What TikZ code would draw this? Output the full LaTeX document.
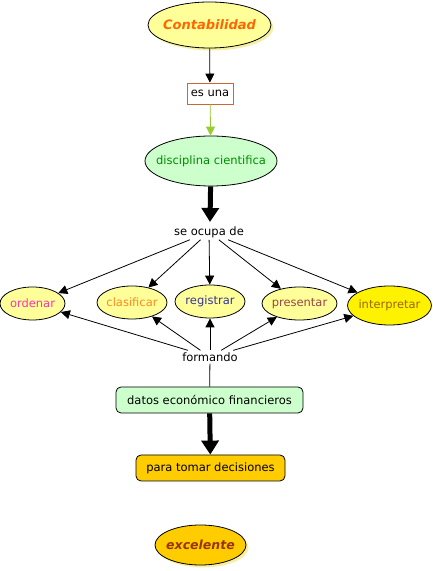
\documentclass[tikz,border=0pt]{standalone}
\usepackage{fontspec}
\setmainfont{DejaVu Sans}
\usetikzlibrary{arrows.meta,shapes.geometric,shadows}
\definecolor{MapYellow}{HTML}{FFFF99}
\definecolor{MapGold}{HTML}{FFCC00}
\definecolor{MapMint}{HTML}{CCFFCC}
\definecolor{MapShade}{HTML}{F4F0A8}

\begin{document}
\begin{tikzpicture}[x=1pt,y=1pt,font=\fontsize{11.5}{13.5}\selectfont,
  >={Triangle[length=9pt,width=9pt]}]
\tikzset{
  concept/.style={ellipse,draw=black,line width=0.8pt,fill=MapYellow,inner sep=0pt},
  box/.style={draw=black,line width=0.8pt,rounded corners=5pt,inner sep=0pt,
              minimum height=26pt},
  phrase/.style={inner sep=2pt,fill=white},
  title/.style={font=\bfseries\itshape\fontsize{13}{15}\selectfont},
  shade/.style={drop shadow={shadow xshift=2.5pt,shadow yshift=-2.5pt,
                fill=MapShade,opacity=1}},
  link/.style={black,line width=0.8pt,->},
  heavy/.style={black,line width=5pt,-{Triangle[length=14pt,width=17pt]}}
}
\useasboundingbox (0,0) rectangle (433,571);

% ---------- top of the map ----------------------------------------------
\node[concept,shade,minimum width=123pt,minimum height=46pt,title,text={rgb,255:red,255;green,102;blue,0}]
  (conta) at (209.5,546) {\makebox[0pt]{Contabilidad}};
\node[draw={rgb,255:red,204;green,102;blue,51},line width=0.8pt,inner sep=0pt,
      minimum width=46pt,minimum height=21pt] (esuna) at (210,477.5) {es una};
\node[concept,fill=MapMint,minimum width=132pt,minimum height=50pt,
      text={rgb,255:red,0;green,140;blue,0}] (disc) at (211,410) {\makebox[0pt]{disciplina cientifica}};

\draw[link] (conta) -- (esuna);
\draw[link,draw={rgb,255:red,153;green,204;blue,51},fill={rgb,255:red,153;green,204;blue,51}] (esuna) -- (disc);
\draw[heavy] (disc) -- (210,349);

% ---------- the five activities -------------------------------------------
\node[phrase] (ocupa) at (209,339) {se ocupa de};
\node[concept,minimum width=65pt,minimum height=33pt,text={rgb,255:red,255;green,51;blue,170}]
  (ordenar) at (32.5,267.5) {\makebox[0pt]{ordenar}};
\node[concept,minimum width=70pt,minimum height=33pt,text={rgb,255:red,255;green,136;blue,34}]
  (clasif) at (132,268.5) {\makebox[0pt]{clasificar}};
\node[concept,minimum width=70pt,minimum height=33pt,text={rgb,255:red,51;green,51;blue,153}]
  (regis) at (210,269.5) {\makebox[0pt]{registrar}};
\node[concept,minimum width=75pt,minimum height=33pt,text={rgb,255:red,153;green,68;blue,68}]
  (presen) at (299.5,267.5) {\makebox[0pt]{presentar}};
\node[concept,fill=yellow,minimum width=84pt,minimum height=39pt,text={rgb,255:red,153;green,102;blue,0}]
  (interp) at (389.5,265.5) {\makebox[0pt]{interpretar}};

\foreach \act in {ordenar,clasif,regis,presen,interp}
  \draw[link] (ocupa) -- (\act);

\node[phrase] (formando) at (210,214) {formando};
\foreach \act in {ordenar,clasif,regis,presen,interp}
  \draw[link] (formando) -- (\act);

% ---------- bottom of the map ---------------------------------------------
\node[box,fill=MapMint,minimum width=187pt] (datos) at (209.5,171) {datos económico financieros};
\node[box,fill=MapGold,minimum width=149pt] (decis) at (210.5,103) {para tomar decisiones};
\draw[black,line width=0.8pt] (datos) -- (formando);
\draw[heavy] (datos) -- (decis);

\node[concept,shade,fill=MapGold,minimum width=91pt,minimum height=40pt,
      font=\bfseries\itshape\fontsize{12.5}{15}\selectfont,text={rgb,255:red,153;green,51;blue,0}]
  (excel) at (200.5,26) {\makebox[0pt]{excelente}};
\end{tikzpicture}
\end{document}
